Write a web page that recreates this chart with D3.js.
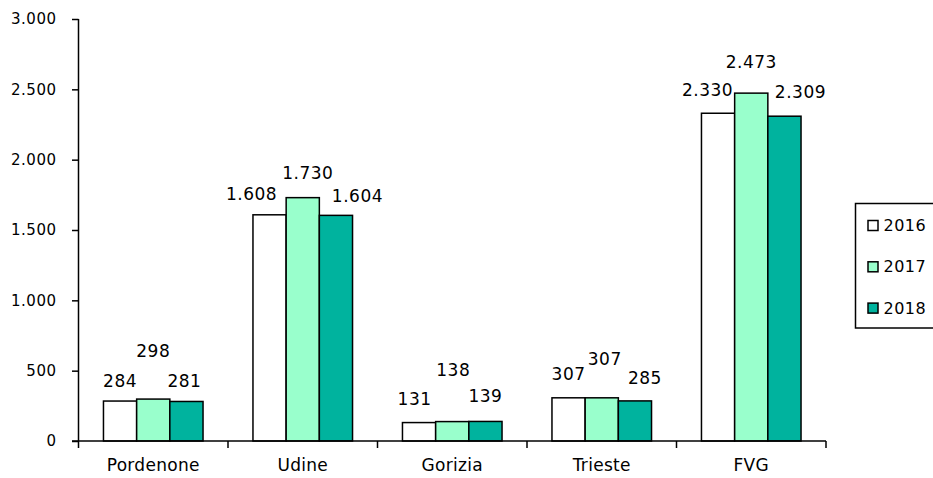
<!DOCTYPE html>
<html><head><meta charset="utf-8">
<script src="https://cdn.jsdelivr.net/npm/d3@7"></script>
<style>
body{margin:0;background:#fff;}
text{font-family:"DejaVu Sans",Verdana,sans-serif;fill:#000;}
</style></head>
<body><svg id="chart" width="933" height="478"></svg>
<script>
const categories = ["Pordenone","Udine","Gorizia","Trieste","FVG"];
const years = ["2016","2017","2018"];
const values2016 = [284,1608,131,307,2330];
const values2017 = [298,1730,138,307,2473];
const values2018 = [281,1604,139,285,2309];
const yTicks = [0,500,1000,1500,2000,2500,3000];
const seriesColors = ["#ffffff","#99ffcc","#00b39e"];
// manual label nudges (px), as placed in the original chart
const labelDx = [[0,-18,-4.5,0,-10.5],[0,5,1,3,0],[-2,21.5,0,10,16]];
const labelDy = [[-2,-1,1.5,2,1],[26,3,30,17,9],[-2,-3,3,1,2]];

const series = [values2016, values2017, values2018];
const loc = d3.formatLocale({decimal:",", thousands:".", grouping:[3], currency:["€",""]});
const fmt = loc.format(",d");

const svg = d3.select("#chart");
const mLeft = 78.5, mRight = 826, mTop = 19, mBottom = 441;
const x0 = d3.scaleBand().domain(categories).range([mLeft, mRight]).padding(0);
const bw = x0.bandwidth();
const x1 = d3.scaleBand().domain(years).range([bw*0.167, bw*0.833]).padding(0);
const y = d3.scaleLinear().domain([0,3000]).range([mBottom, mTop]);

// bars
const g = svg.append("g");
series.forEach((vals, si) => {
  g.selectAll(".b"+si).data(vals).join("rect")
    .attr("x", (d,i) => x0(categories[i]) + x1(years[si]))
    .attr("y", d => y(d))
    .attr("width", x1.bandwidth())
    .attr("height", d => y(0) - y(d))
    .attr("fill", seriesColors[si])
    .attr("stroke", "#000").attr("stroke-width", 1.5);
});
// labels
series.forEach((vals, si) => {
  g.selectAll(".l"+si).data(vals).join("text")
    .attr("x", (d,i) => x0(categories[i]) + x1(years[si]) + x1.bandwidth()/2 + labelDx[si][i])
    .attr("y", (d,i) => y(d) - 16 - labelDy[si][i])
    .attr("text-anchor","middle")
    .style("font-size","17px").style("letter-spacing","0.5px")
    .text(d => fmt(d));
});

// y axis
const yAxis = d3.axisLeft(y).tickValues(yTicks).tickFormat(fmt).tickSize(6.5).tickPadding(15.5);
const ya = svg.append("g").attr("transform",`translate(${mLeft},0)`).call(yAxis);
ya.select(".domain").attr("d", `M0,${mTop}V${mBottom+7}`).attr("stroke","#000").attr("stroke-width",1.5);
ya.selectAll(".tick line").attr("stroke","#000").attr("stroke-width",1.5);
ya.selectAll(".tick text").style("font-size","15px").style("font-family","DejaVu Sans").style("letter-spacing","0.5px");

// x axis
const xa = svg.append("g").attr("transform",`translate(0,${mBottom})`);
xa.append("path").attr("d",`M${mLeft-6.5},0H${mRight}`).attr("stroke","#000").attr("stroke-width",1.5).attr("fill","none");
const bounds = categories.map(c => x0(c) + bw);
xa.selectAll(".xt").data(bounds).join("line")
  .attr("x1",d=>d).attr("x2",d=>d).attr("y1",0).attr("y2",7)
  .attr("stroke","#000").attr("stroke-width",1.5);
xa.selectAll(".xl").data(categories).join("text")
  .attr("x", d => x0(d) + bw/2).attr("y", 30)
  .attr("text-anchor","middle").style("font-size","17px").style("letter-spacing","0.3px")
  .text(d => d);

// legend
const lg = svg.append("g").attr("transform","translate(855.5,203.5)");
lg.append("rect").attr("x",0).attr("y",0).attr("width",90).attr("height",124.5)
  .attr("fill","#fff").attr("stroke","#000").attr("stroke-width",1.5);
years.forEach((yr, i) => {
  const yy = 22 + i*41.3;
  lg.append("rect").attr("x",12.5).attr("y",yy-5).attr("width",10).attr("height",10)
    .attr("fill",seriesColors[i]).attr("stroke","#000").attr("stroke-width",1.5);
  lg.append("text").attr("x",28).attr("y",yy+5.5).style("font-size","16px").style("letter-spacing","0.5px").text(yr);
});
</script></body></html>
